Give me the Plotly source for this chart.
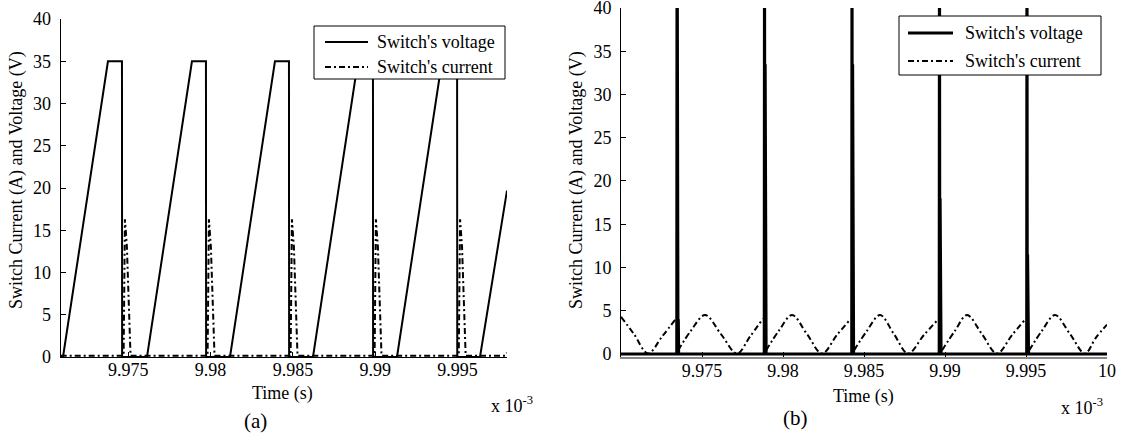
import plotly.graph_objects as go

# ---------------- data (a) ----------------
t_a_v = [9.97090, 9.97104, 9.97377, 9.97462, 9.97463, 9.97614,
         9.97887, 9.97972, 9.97973, 9.98118,
         9.98391, 9.98476, 9.98477, 9.98622,
         9.98895, 9.98986, 9.98987, 9.99132,
         9.99405, 9.99497, 9.99498, 9.99636, 9.99800]
v_a = [0, 0, 35, 35, 0, 0,
       35, 35, 0, 0,
       35, 35, 0, 0,
       35, 35, 0, 0,
       35, 35, 0, 0, 19.7]

t_a_i = [9.97090,
         9.97472, 9.97480, 9.97492, 9.97514,
         9.97982, 9.97990, 9.98002, 9.98024,
         9.98486, 9.98494, 9.98506, 9.98528,
         9.98996, 9.99004, 9.99016, 9.99038,
         9.99507, 9.99515, 9.99527, 9.99549,
         9.99790, 9.99800]
i_a = [0.15,
       0.15, 16.3, 13.0, 0.15,
       0.15, 16.3, 13.0, 0.15,
       0.15, 16.3, 13.0, 0.15,
       0.15, 16.3, 13.0, 0.15,
       0.15, 16.3, 13.0, 0.15,
       0.15, 0.5]

# ---------------- data (b) ----------------
t_b_v = [9.97000,
         9.97344, 9.97346, 9.97348, 9.97350, 9.97352, 9.97354, 9.97356,
         9.97884, 9.97886, 9.97888, 9.97890, 9.97892, 9.97894, 9.97896,
         9.98424, 9.98426, 9.98428, 9.98430, 9.98432, 9.98434, 9.98436,
         9.98964, 9.98966, 9.98968, 9.98970, 9.98972, 9.98974, 9.98976,
         9.99504, 9.99506, 9.99508, 9.99510, 9.99512, 9.99514, 9.99516,
         10.00000]
v_b = [0,
       0, 60, 0, 9.0, 0, 4.0, 0,
       0, 60, 0, 33.5, 0, 9.0, 0,
       0, 60, 0, 33.5, 0, 8.0, 0,
       0, 60, 0, 18.0, 0, 7.8, 0,
       0, 60, 0, 11.5, 0, 7.8, 0,
       0]

t_b_i = [9.97000, 9.97080, 9.97167, 9.97253, 9.97340, None,
         9.97352, 9.97432, 9.97519, 9.97617, 9.97716, 9.97796, 9.97877, None,
         9.97895, 9.97975, 9.98056, 9.98148, 9.98241, 9.98333, 9.98420, None,
         9.98438, 9.98519, 9.98599, 9.98685, 9.98772, 9.98870, 9.98963, None,
         9.98981, 9.99062, 9.99136, 9.99228, 9.99321, 9.99414, 9.99500, None,
         9.99519, 9.99599, 9.99679, 9.99772, 9.99864, 9.99932, 10.00000]
i_b = [4.3, 2.3, 0.05, 2.0, 4.1, None,
       0.4, 2.7, 4.5, 2.3, 0.05, 2.0, 4.1, None,
       0.4, 2.7, 4.5, 2.3, 0.05, 2.2, 4.1, None,
       0.4, 2.7, 4.5, 2.3, 0.05, 2.2, 4.1, None,
       0.4, 2.7, 4.5, 2.3, 0.05, 2.2, 4.1, None,
       0.4, 2.7, 4.5, 2.3, 0.05, 1.9, 3.4]

x_ticks_a = [9.975, 9.98, 9.985, 9.99, 9.995]
x_labels_a = ["9.975", "9.98", "9.985", "9.99", "9.995"]
x_ticks_b = [9.975, 9.98, 9.985, 9.99, 9.995, 10.0]
x_labels_b = ["9.975", "9.98", "9.985", "9.99", "9.995", "10"]
y_ticks = [0, 5, 10, 15, 20, 25, 30, 35, 40]
legend_names = ["Switch's voltage", "Switch's current"]

W, H = 1125, 448
FONT = "Liberation Serif"
DASHDOT = "6px,3px,2px,3px"

def px(x):
    return x / W

def py(y):
    return 1 - y / H

fig = go.Figure()

fig.add_trace(go.Scatter(x=t_a_v, y=v_a, mode="lines", name=legend_names[0],
                         line=dict(color="black", width=2), xaxis="x", yaxis="y",
                         showlegend=False))
fig.add_trace(go.Scatter(x=t_a_i, y=i_a, mode="lines", name=legend_names[1],
                         line=dict(color="black", width=2, dash=DASHDOT),
                         xaxis="x", yaxis="y", showlegend=False))
fig.add_trace(go.Scatter(x=t_b_v, y=v_b, mode="lines", name=legend_names[0],
                         line=dict(color="black", width=3), xaxis="x2", yaxis="y2",
                         showlegend=False))
fig.add_trace(go.Scatter(x=t_b_i, y=i_b, mode="lines", name=legend_names[1],
                         line=dict(color="black", width=2, dash=DASHDOT, shape="spline"),
                         connectgaps=False, xaxis="x2", yaxis="y2", showlegend=False))

axis_common = dict(showgrid=False, zeroline=False, showline=True, linecolor="black",
                   linewidth=1, ticks="inside", ticklen=5, tickcolor="black",
                   automargin=False, ticklabeloverflow="allow",
                   tickfont=dict(family=FONT, size=18, color="black"))

fig.update_layout(
    width=W, height=H,
    margin=dict(l=0, r=0, t=0, b=0, pad=0, autoexpand=False),
    paper_bgcolor="white", plot_bgcolor="white",
    font=dict(family=FONT, size=18, color="black"),
    xaxis=dict(domain=[px(60.7), px(507)], range=[9.9709, 9.9980], anchor="y",
               tickvals=x_ticks_a, ticktext=x_labels_a, ticklabelstandoff=-4, **axis_common),
    yaxis=dict(domain=[py(357), py(19)], range=[0, 40], anchor="x",
               tickvals=y_ticks, ticklabelstandoff=5, **axis_common),
    xaxis2=dict(domain=[px(621), px(1107)], range=[9.97, 10.0], anchor="y2",
                tickvals=x_ticks_b, ticktext=x_labels_b, ticklabelstandoff=-4,
                **{**axis_common, "linecolor": "#888888", "linewidth": 2}),
    yaxis2=dict(domain=[py(357), py(8)], range=[-0.35, 40], anchor="x2",
                tickvals=y_ticks, ticklabelstandoff=5, **axis_common),
    showlegend=False,
)

# legend boxes drawn in paper coordinates
legends = [
    dict(box=(314, 26, 505, 79), rows=(42, 67), sample=(325, 368), text_x=375, vw=2),
    dict(box=(899, 16, 1101, 75), rows=(33, 61), sample=(908, 953), text_x=963, vw=3),
]
for lg in legends:
    x0, y0, x1, y1 = lg["box"]
    fig.add_shape(type="rect", xref="paper", yref="paper",
                  x0=px(x0), y0=py(y1), x1=px(x1), y1=py(y0),
                  line=dict(color="black", width=1), fillcolor="white", layer="above")
    s0, s1 = lg["sample"]
    for k, (name, ry) in enumerate(zip(legend_names, lg["rows"])):
        fig.add_shape(type="line", xref="paper", yref="paper",
                      x0=px(s0), x1=px(s1), y0=py(ry), y1=py(ry), layer="above",
                      line=dict(color="black", width=lg["vw"] if k == 0 else 2,
                                dash="solid" if k == 0 else DASHDOT))
        fig.add_annotation(xref="paper", yref="paper", showarrow=False,
                           x=px(lg["text_x"]), y=py(ry), xanchor="left", yanchor="middle",
                           text=name, font=dict(family=FONT, size=18, color="black"))

annots = [
    dict(text="Switch Current (A) and Voltage (V)", x=px(16), y=py(180), textangle=-90),
    dict(text="Switch Current (A) and Voltage (V)", x=px(576), y=py(180), textangle=-90),
    dict(text="Time (s)", x=px(282), y=py(393)),
    dict(text="Time (s)", x=px(863), y=py(396)),
    dict(text="x 10<sup>-3</sup>", x=px(512), y=py(404)),
    dict(text="x 10<sup>-3</sup>", x=px(1082), y=py(406)),
    dict(text="(a)", x=px(255), y=py(421), font=dict(family=FONT, size=21, color="black")),
    dict(text="(b)", x=px(795), y=py(418), font=dict(family=FONT, size=21, color="black")),
]
for a in annots:
    fig.add_annotation(xref="paper", yref="paper", showarrow=False,
                       xanchor="center", yanchor="middle",
                       font=a.pop("font", dict(family=FONT, size=18, color="black")), **a)

fig.write_html("out.html")
